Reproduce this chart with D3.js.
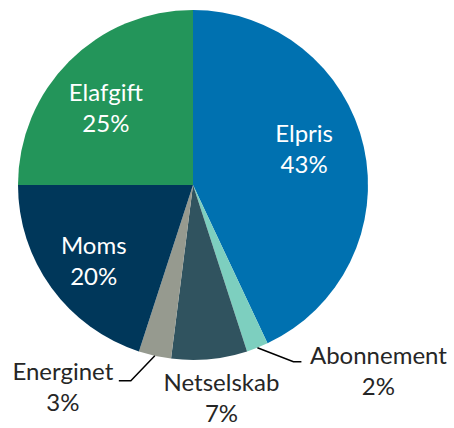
<!DOCTYPE html>
<html><head><meta charset="utf-8">
<script src="https://cdn.jsdelivr.net/npm/d3@7"></script>
<style>body{margin:0;background:#fff}svg{display:block}text{font-family:Lato,"Open Sans",sans-serif}</style>
</head><body><svg id="c" width="454" height="428"></svg>
<script>
const categories = ["Elpris","Abonnement","Netselskab","Energinet","Moms","Elafgift"];
const values = [43,2,7,3,20,25];
const colors = ["#0071b0","#7dcfbf","#30535f","#969a8f","#00375a","#23955a"];
const inside = [true,false,false,false,true,true];

const W=454,H=428,cx=193,cy=185,r=175;
const svg=d3.select("#c");
const g=svg.append("g").attr("transform",`translate(${cx},${cy})`);
const data=categories.map((c,i)=>({cat:c,val:values[i],col:colors[i],inside:inside[i]}));
const pie=d3.pie().sort(null).value(d=>d.val);
const arcs=pie(data);
const arc=d3.arc().innerRadius(0).outerRadius(r);
g.selectAll("path.s").data(arcs).join("path").attr("class","s")
 .attr("d",arc).attr("fill",d=>d.data.col);

const fs=24, lh=31;
// per-label nudges for inside labels (dx, dy of first baseline from centroid)
const nudge={"Elpris":[-5,-17],"Elafgift":[-3,0],"Moms":[-3,-1]};
const lab=d3.arc().innerRadius(r*0.68).outerRadius(r*0.68);
arcs.filter(d=>d.data.inside).forEach(d=>{
  const [x0,y0]=lab.centroid(d);
  const n=nudge[d.data.cat];
  const x=x0+n[0], y=y0+n[1];
  const t=g.append("text").attr("text-anchor","middle").attr("fill","#fff").attr("font-size",fs);
  t.append("tspan").attr("x",x).attr("y",y).text(d.data.cat);
  t.append("tspan").attr("x",x).attr("y",y+lh).text(d.data.val+"%");
});

// outside labels: leader offsets (elbow dx,dy, tail dx) and text offsets
const outside = {
  "Abonnement":{leader:[36,14,8], text:[77,2]},
  "Energinet":{leader:[-24,25,-12], text:[-56,-1]},
  "Netselskab":{leader:null, text:[12,32]}
};
arcs.filter(d=>!d.data.inside).forEach(d=>{
  const a=(d.startAngle+d.endAngle)/2;
  const ex=Math.sin(a)*r, ey=-Math.cos(a)*r;
  const o=outside[d.data.cat];
  let tx,ty;
  if(o.leader){
    const [dx,dy,tl]=o.leader;
    const bx=ex+dx, by=ey+dy;
    g.append("path").attr("d",`M${ex},${ey}L${bx},${by}L${bx+tl},${by}`)
     .attr("fill","none").attr("stroke","#000").attr("stroke-width",1.5);
    tx=bx+tl+o.text[0]; ty=by+o.text[1];
  } else {
    tx=ex+o.text[0]; ty=ey+o.text[1];
  }
  const t=g.append("text").attr("text-anchor","middle").attr("fill","#262626").attr("font-size",fs);
  t.append("tspan").attr("x",tx).attr("y",ty).text(d.data.cat);
  t.append("tspan").attr("x",tx).attr("y",ty+lh).text(d.data.val+"%");
});
</script></body></html>
